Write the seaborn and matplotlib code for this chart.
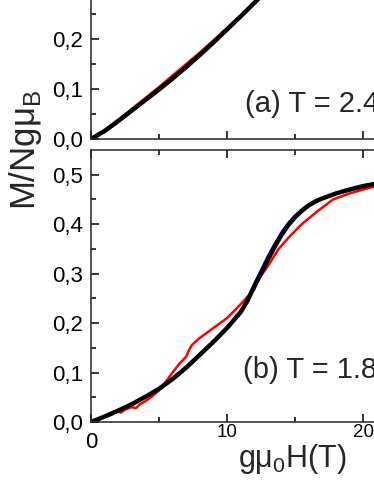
import matplotlib
matplotlib.use("Agg")
import matplotlib.pyplot as plt
import seaborn as sns

# ===== DATA =====
# panel (a), T = 2.4 K
field_a = [0, 1, 2, 3, 4, 5, 6, 7, 8, 9, 10, 11, 12, 13, 14, 15]
m_black_a = [0, 0.016, 0.036, 0.057, 0.078, 0.099, 0.121, 0.144, 0.168, 0.193, 0.219, 0.245, 0.272, 0.299, 0.326, 0.352]
m_red_a = [0, 0.017, 0.038, 0.060, 0.082, 0.104, 0.127, 0.150, 0.173, 0.197, 0.222, 0.247, 0.273, 0.299, 0.325, 0.351]
m_blue_a = [0, 0.014, 0.034, 0.055, 0.076, 0.097, 0.119, 0.142, 0.167, 0.193, 0.220, 0.246, 0.273, 0.300, 0.327, 0.352]

# panel (b), T = 1.8 K
field_b_black = [0, 1, 2, 3, 4, 5, 6, 7, 8, 9, 10, 11, 11.5, 12, 12.5, 13, 13.5, 14, 14.5, 15, 15.5, 16, 16.5, 17, 18, 19, 20, 21, 22, 24]
m_black_b = [0, 0.011, 0.023, 0.036, 0.051, 0.067, 0.087, 0.110, 0.136, 0.162, 0.190, 0.222, 0.245, 0.274, 0.300, 0.328, 0.354, 0.378, 0.398, 0.414, 0.427, 0.438, 0.446, 0.452, 0.462, 0.470, 0.477, 0.482, 0.486, 0.490]

field_b_blue = [0, 1, 2, 3, 4, 5, 6, 7, 8, 9, 10, 11, 11.5, 12, 12.5, 13, 13.5, 14, 14.5, 15, 15.5, 16, 16.5, 17, 18, 19, 20, 21, 22, 24]
m_blue_b = [0, 0.010, 0.022, 0.035, 0.050, 0.065, 0.085, 0.108, 0.134, 0.161, 0.190, 0.223, 0.248, 0.280, 0.308, 0.336, 0.361, 0.384, 0.403, 0.418, 0.430, 0.440, 0.447, 0.452, 0.461, 0.468, 0.474, 0.479, 0.483, 0.488]

field_b_red = [0, 0.5, 1, 1.5, 2.0, 2.2, 2.5, 3.0, 3.3, 3.6, 4.0, 4.5, 5.0, 5.3, 5.6, 6.0, 6.5, 7.0, 7.2, 7.4, 8.0, 9.0, 10.0, 11.0, 12.0, 12.3, 13.0, 13.8, 14.6, 15.5, 16.6, 17.8, 19.0, 20.0, 21.0, 22.0, 24.0]
m_red_b = [0, 0.005, 0.010, 0.015, 0.022, 0.019, 0.025, 0.030, 0.028, 0.036, 0.042, 0.052, 0.064, 0.075, 0.085, 0.100, 0.118, 0.132, 0.145, 0.155, 0.170, 0.190, 0.210, 0.238, 0.268, 0.288, 0.315, 0.350, 0.375, 0.400, 0.425, 0.450, 0.462, 0.470, 0.477, 0.483, 0.488]

y_ticks = [0.0, 0.1, 0.2, 0.3, 0.4, 0.5]
y_tick_labels = ["0,0", "0,1", "0,2", "0,3", "0,4", "0,5"]
x_ticks = [0, 10, 20]
x_tick_labels = ["0", "10", "20"]

sns.set_style("ticks")
plt.rcParams["font.family"] = ["Liberation Sans", "DejaVu Sans"]
plt.rcParams["axes.linewidth"] = 1.1

fig = plt.figure(figsize=(3.74, 4.84), dpi=100)
W, H = 374, 484
ax_a = fig.add_axes([91 / W, (H - 139) / H, 408 / W, 275 / H])
ax_b = fig.add_axes([91 / W, (H - 422) / H, 408 / W, 272 / H])

sns.lineplot(x=field_a, y=m_blue_a, ax=ax_a, color="blue", linewidth=1.5, sort=False)
sns.lineplot(x=field_a, y=m_red_a, ax=ax_a, color="red", linewidth=1.8, sort=False)
sns.lineplot(x=field_a, y=m_black_a, ax=ax_a, color="black", linewidth=3.2, sort=False)

sns.lineplot(x=field_b_blue, y=m_blue_b, ax=ax_b, color="blue", linewidth=1.5, sort=False)
sns.lineplot(x=field_b_red, y=m_red_b, ax=ax_b, color="red", linewidth=1.8, sort=False)
sns.lineplot(x=field_b_black, y=m_black_b, ax=ax_b, color="black", linewidth=3.2, sort=False)

for ax in (ax_a, ax_b):
    ax.set_xlim(0, 30)
    ax.set_ylim(0, 0.55)
    ax.set_yticks(y_ticks, labels=y_tick_labels)
    ax.set_yticks([0.05, 0.15, 0.25, 0.35, 0.45], minor=True)
    ax.set_xticks([5, 15, 25], minor=True)
    ax.tick_params(which="both", direction="in", top=True, right=True, width=1.1, colors="black")
    ax.tick_params(which="major", length=5.8, pad=6, labelsize=16)
    ax.tick_params(which="minor", length=3.3)
    ax.set_xlabel("")
    ax.set_ylabel("")

ax_a.set_xticks(x_ticks, labels=[])
ax_b.set_xticks(x_ticks, labels=x_tick_labels)
ax_b.tick_params(axis="x", which="major", pad=7)
for lab in ax_b.get_xticklabels()[1:]:
    lab.set_fontsize(13.5)
    lab.set_y(0.027)

ax_a.text(11.3, 0.054, "(a) T = 2.4 K", fontsize=21)
ax_b.text(11.2, 0.088, "(b) T = 1.8 K", fontsize=21)

fig.text(25 / W, (H - 150) / H, "M/Ngμ$_\\mathregular{B}$", rotation=90,
         ha="center", va="center", fontsize=25)
fig.text(238 / W, 17 / H, "gμ$_\\mathregular{0}$H(T)", ha="left", va="baseline", fontsize=22)

fig.savefig("out.png", dpi=100)
